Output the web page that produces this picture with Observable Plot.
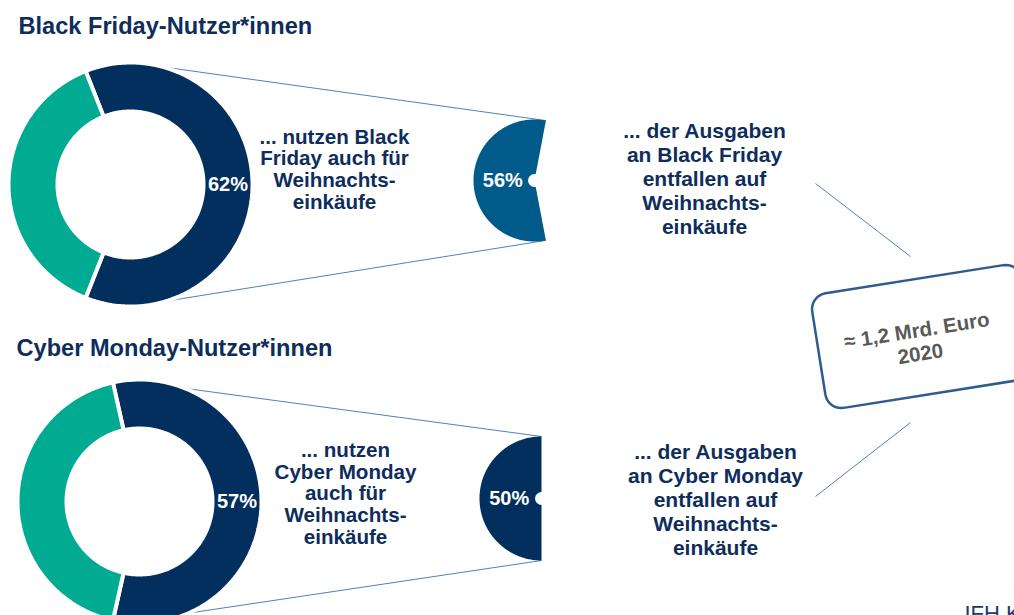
<!DOCTYPE html>
<html><head><meta charset="utf-8">
<script src="https://cdn.jsdelivr.net/npm/d3@7"></script>
<script src="https://cdn.jsdelivr.net/npm/@observablehq/plot@0.6"></script>
<style>
body{margin:0;background:#fff;overflow:hidden;}
#chart svg{display:block;}
</style></head><body><div id="chart"></div>
<script>
// ---------- DATA ----------
const groups = ["Black Friday", "Cyber Monday"];
const titles = ["Black Friday-Nutzer*innen", "Cyber Monday-Nutzer*innen"];
const usageShare = [62, 57];   // % der Nutzer*innen, die den Tag auch für Weihnachtseinkäufe nutzen
const spendShare = [56, 50];   // % der Ausgaben, die auf Weihnachtseinkäufe entfallen
const usageText = [
  "... nutzen Black\nFriday auch für\nWeihnachts-\neinkäufe",
  "... nutzen\nCyber Monday\nauch für\nWeihnachts-\neinkäufe"
];
const spendText = [
  "... der Ausgaben\nan Black Friday\nentfallen auf\nWeihnachts-\neinkäufe",
  "... der Ausgaben\nan Cyber Monday\nentfallen auf\nWeihnachts-\neinkäufe"
];
const totalText = ["≈ 1,2 Mrd. Euro\n2020"];
const sourceText = ["IFH KÖLN"];

// ---------- LAYOUT / STYLE ----------
const W = 1014, H = 615;
const NAVY = "#022f5d", TEAL = "#00ab92", MIDBLUE = "#005a8a", TEXT = "#0e2d5c", LINK = "#4f81bd";
const layout = [
  {titleX: 18, titleY: 33, cx: 130, cy: 184, R: 122, r: 73, textX: 334, textY: 208,
   pcx: 534, pcy: 180, pR: 61, pieColor: MIDBLUE, spendX: 704, spendY: 233, link0: 10, link1: 174},
  {titleX: 16, titleY: 355, cx: 139, cy: 501, R: 122, r: 73, textX: 345, textY: 543,
   pcx: 541, pcy: 498, pR: 62, pieColor: NAVY, spendX: 715, spendY: 554, link0: 20, link1: 158}
];
const box = {cx: 923, cy: 336, w: 212, h: 116, rr: 16, angle: -9};
const boxLinks = [[815, 183, 910, 256], [815, 496, 910, 422]];

const rows = groups.map((g, i) => ({group: g, title: titles[i], usage: usageShare[i], spend: spendShare[i],
  usageText: usageText[i], spendText: spendText[i], ...layout[i]}));

// angle in degrees, clockwise from 12 o'clock
const pt = (cx, cy, R, a) => ({x: cx + R * Math.sin(a * Math.PI / 180), y: cy - R * Math.cos(a * Math.PI / 180)});
function arcPts(cx, cy, R, a0, a1) {
  const n = Math.max(2, Math.ceil(Math.abs(a1 - a0)));
  return d3.range(n + 1).map(k => pt(cx, cy, R, a0 + (a1 - a0) * k / n));
}
function ringSlice(d, a0, a1) {
  const p = [...arcPts(d.cx, d.cy, d.R, a0, a1), ...arcPts(d.cx, d.cy, d.r, a1, a0)];
  p.push(p[0]);
  return p;
}

const marks = [];

// connector links (zoom lines)
const links = rows.flatMap(d => {
  const half = d.spend * 1.8;
  const top = pt(d.pcx, d.pcy, d.pR, 270 + half), bot = pt(d.pcx, d.pcy, d.pR, 270 - half);
  const s0 = pt(d.cx, d.cy, d.R - 1, d.link0), s1 = pt(d.cx, d.cy, d.R - 1, d.link1);
  return [{x1: s0.x, y1: s0.y, x2: top.x, y2: top.y}, {x1: s1.x, y1: s1.y, x2: bot.x, y2: bot.y}];
});
boxLinks.forEach(([x1, y1, x2, y2]) => links.push({x1, y1, x2, y2}));
marks.push(Plot.link(links, {x1: "x1", y1: "y1", x2: "x2", y2: "y2", stroke: LINK, strokeWidth: 1}));

// donuts
rows.forEach(d => {
  const half = d.usage * 1.8;
  const a0 = 90 - half, a1 = 90 + half;
  marks.push(Plot.line(ringSlice(d, a0, a1), {x: "x", y: "y", fill: NAVY, stroke: "white", strokeWidth: 4, strokeLinejoin: "miter"}));
  marks.push(Plot.line(ringSlice(d, a1, a0 + 360), {x: "x", y: "y", fill: TEAL, stroke: "white", strokeWidth: 4, strokeLinejoin: "miter"}));
});

// pies (share of spending)
rows.forEach(d => {
  const half = d.spend * 1.8;
  const p = [{x: d.pcx, y: d.pcy}, ...arcPts(d.pcx, d.pcy, d.pR, 270 - half, 270 + half)];
  p.push(p[0]);
  marks.push(Plot.line(p, {x: "x", y: "y", fill: d.pieColor, stroke: "none"}));
});
marks.push(Plot.dot(rows, {x: "pcx", y: "pcy", r: 6.5, fill: "white", stroke: "none"}));

// rounded rotated box
(function () {
  const {cx, cy, w, h, rr, angle} = box;
  const hw = w / 2 - rr, hh = h / 2 - rr;
  const corners = [[hw, -hh, -90, 0], [hw, hh, 0, 90], [-hw, hh, 90, 180], [-hw, -hh, 180, 270]];
  const local = corners.flatMap(([ux, uy, s, e]) => d3.range(0, 11).map(k => {
    const t = (s + (e - s) * k / 10) * Math.PI / 180;
    return [ux + rr * Math.cos(t), uy + rr * Math.sin(t)];
  }));
  local.push(local[0]);
  const th = angle * Math.PI / 180;
  const pts = local.map(([u, v]) => ({x: cx + u * Math.cos(th) - v * Math.sin(th), y: cy + u * Math.sin(th) + v * Math.cos(th)}));
  marks.push(Plot.line(pts, {x: "x", y: "y", fill: "white", stroke: "#2f5b8f", strokeWidth: 2.5}));
})();

// texts
marks.push(Plot.text(rows, {x: "titleX", y: "titleY", text: "title", textAnchor: "start", lineAnchor: "bottom",
  fontSize: 23.6, fontWeight: "bold", fill: TEXT}));
marks.push(Plot.text(rows, {x: d => d.cx + (d.R + d.r) / 2, y: "cy", text: d => `${d.usage}%`, lineAnchor: "middle",
  fontSize: 20, fontWeight: "bold", fill: "white"}));
marks.push(Plot.text(rows, {x: d => d.pcx - d.pR * 0.52, y: "pcy", text: d => `${d.spend}%`, lineAnchor: "middle",
  fontSize: 20, fontWeight: "bold", fill: "white"}));
marks.push(Plot.text(rows, {x: "textX", y: "textY", text: "usageText", textAnchor: "middle", lineAnchor: "bottom",
  lineHeight: 1.05, fontSize: 20.6, fontWeight: "bold", fill: TEXT}));
marks.push(Plot.text(rows, {x: "spendX", y: "spendY", text: "spendText", textAnchor: "middle", lineAnchor: "bottom",
  lineHeight: 1.14, fontSize: 21, fontWeight: "bold", fill: TEXT}));
marks.push(Plot.text(totalText, {x: () => 918, y: () => 341, text: d => d, rotate: box.angle, lineAnchor: "middle",
  lineHeight: 1.15, fontSize: 20.5, fontWeight: "bold", fill: "#595959"}));
marks.push(Plot.text(sourceText, {x: () => 964, y: () => 620, text: d => d, textAnchor: "start", lineAnchor: "bottom",
  fontSize: 22, fill: "#1f3864"}));

const chart = Plot.plot({
  width: W, height: H, margin: 0,
  x: {domain: [0, W], range: [0, W], axis: null},
  y: {domain: [0, H], range: [0, H], axis: null},
  style: {fontFamily: "'Liberation Sans', Arial, sans-serif", background: "white", overflow: "hidden"},
  marks
});
document.getElementById("chart").appendChild(chart);
</script></body></html>
